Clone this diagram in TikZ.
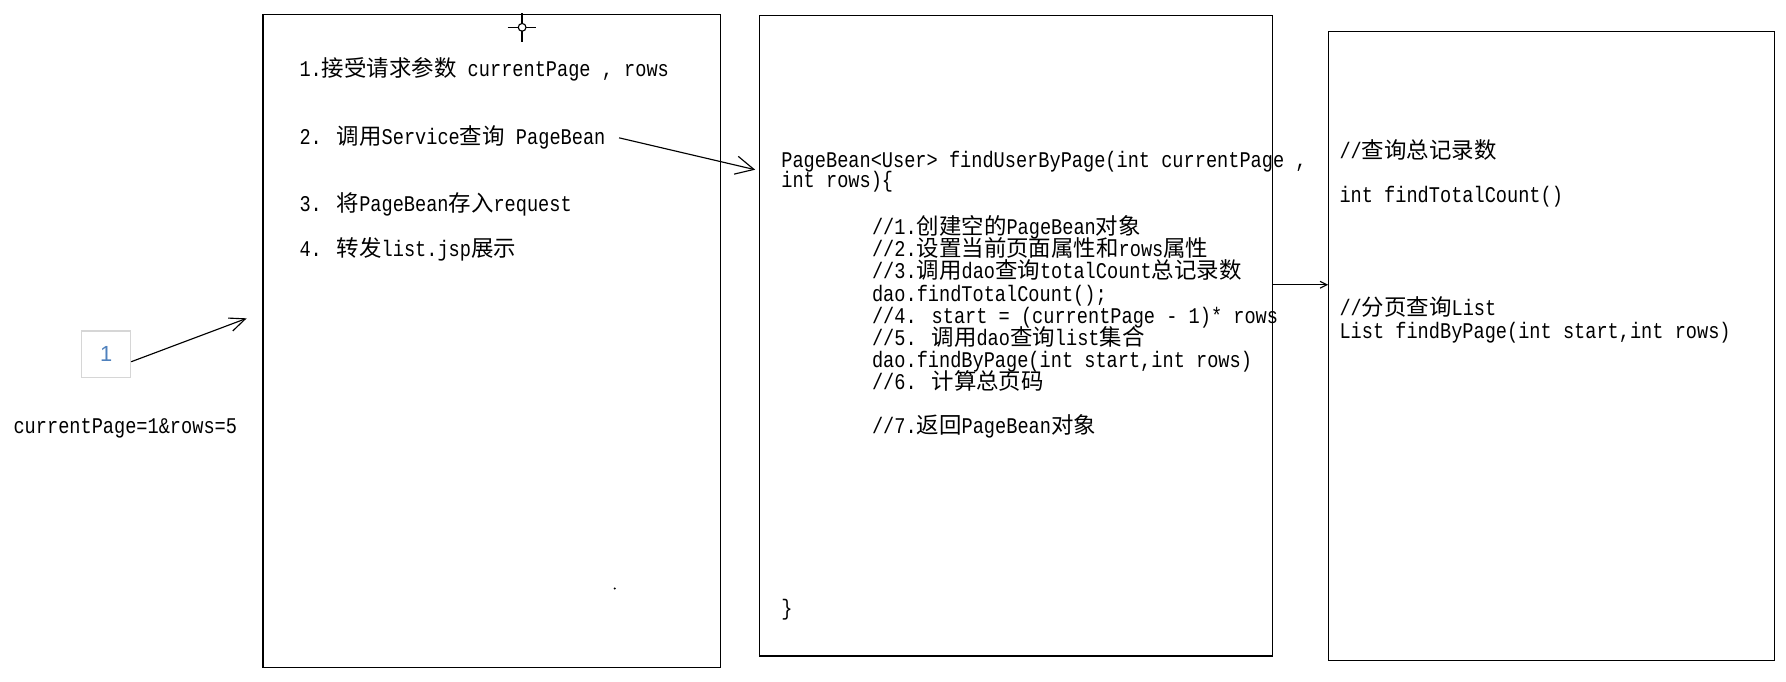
\documentclass[tikz,border=0pt]{standalone}
\usepackage{fontspec}
\setmainfont{Liberation Mono}[FakeStretch=0.83]
\newfontfamily\cjk{Noto Sans CJK SC}
\newfontfamily\numfont{Liberation Sans}
\newcommand\zh[1]{{\cjk #1}}
\usetikzlibrary{arrows.meta}
\definecolor{numblue}{RGB}{79,129,189}
\definecolor{lightframe}{RGB}{214,214,214}
\begin{document}
\begin{tikzpicture}[x=0.5pt,y=-0.5pt,
  box/.style={draw=black, line width=0.55pt, inner sep=0pt, outer sep=0pt},
  txt/.style={anchor=base west, inner sep=0pt, outer sep=0pt, font=\fontsize{9.85pt}{9.75pt}\selectfont},
  conn/.style={line width=0.5pt, -{Straight Barb[length=7pt,width=6pt]}},
  smallconn/.style={line width=0.5pt, -{Straight Barb[length=3pt,width=3pt]}}]
\fill[white] (0,0) rectangle (1568,598.74);
\useasboundingbox (0,0) rectangle (1568,598.74);

% boxes
\node[box, minimum width=200.75pt, minimum height=286.7pt] (b1) at (431.75,299.3) {};
\node[box, minimum width=225.25pt, minimum height=281.3pt] (b2) at (891.75,294.7) {};
\node[box, minimum width=196pt, minimum height=276.25pt] (b3) at (1362,303.75) {};
\node[draw=lightframe, line width=0.45pt, inner sep=0pt, minimum width=21.5pt, minimum height=20.5pt,
      font=\numfont\fontsize{9.6pt}{10pt}\selectfont, text=numblue] (s1) at (93.2,311.1) {1};

% left text
\node[txt] (q) at (11.9,381) {currentPage=1\&rows=5};

% box 1 text
\node[txt] (l1) at (263,67) {1.\zh{接受请求参数} currentPage , rows};
\node[txt] (l2) at (263,127) {2. \zh{调用}Service\zh{查询} PageBean};
\node[txt] (l3) at (263,186) {3. \zh{将}PageBean\zh{存入}request};
\node[txt] (l4) at (263,225) {4. \zh{转发}list.jsp\zh{展示}};

% box 2 text
\node[txt] (m1) at (686,147) {PageBean<User> findUserByPage(int currentPage ,};
\node[txt] (m2) at (686,165) {int rows)\{};
\node[txt] (m3) at (765.6,206) {//1.\zh{创建空的}PageBean\zh{对象}};
\node[txt] (m4) at (765.6,225.4) {//2.\zh{设置当前页面属性和}rows\zh{属性}};
\node[txt] (m5) at (765.6,244.9) {//3.\zh{调用}dao\zh{查询}totalCount\zh{总记录数}};
\node[txt] (m6) at (765.6,264.3) {dao.findTotalCount();};
\node[txt] (m7) at (765.6,283.7) {//4. start = (currentPage - 1)* rows};
\node[txt] (m8) at (765.6,303.1) {//5. \zh{调用}dao\zh{查询}list\zh{集合}};
\node[txt] (m9) at (765.6,322.6) {dao.findByPage(int start,int rows)};
\node[txt] (m10) at (765.6,342) {//6. \zh{计算总页码}};
\node[txt] (m11) at (765.6,380.9) {//7.\zh{返回}PageBean\zh{对象}};
\node[txt] (m12) at (686,540) {\}};

% box 3 text
\node[txt] (r1) at (1176,139) {//\zh{查询总记录数}};
\node[txt] (r2) at (1176,178) {int findTotalCount()};
\node[txt] (r3) at (1176,277) {//\zh{分页查询}List};
\node[txt] (r4) at (1176,297) {List findByPage(int start,int rows)};

% cursor artifact and dot
\draw[line width=0.6pt] (458.4,11.7) -- (458.4,36.6);
\draw[line width=0.6pt] (445.6,24) -- (471,24);
\draw[line width=0.5pt, fill=white] (458.4,24) circle (1.7pt);
\fill (539.7,516.6) circle (0.5pt);

% connectors
\coordinate (a1e) at (216.6,279.5);
\coordinate (a2e) at (663,149);
\coordinate (a3) at (0,250);
\draw[conn] ([yshift=-3.25pt]s1.east) -- (a1e);
\draw[conn, -{Straight Barb[length=8pt,width=8pt]}] ([xshift=6pt,yshift=3pt]l2.base east) -- (a2e);
\draw[smallconn] (b2.east |- a3) -- (b3.west |- a3);
\end{tikzpicture}
\end{document}
